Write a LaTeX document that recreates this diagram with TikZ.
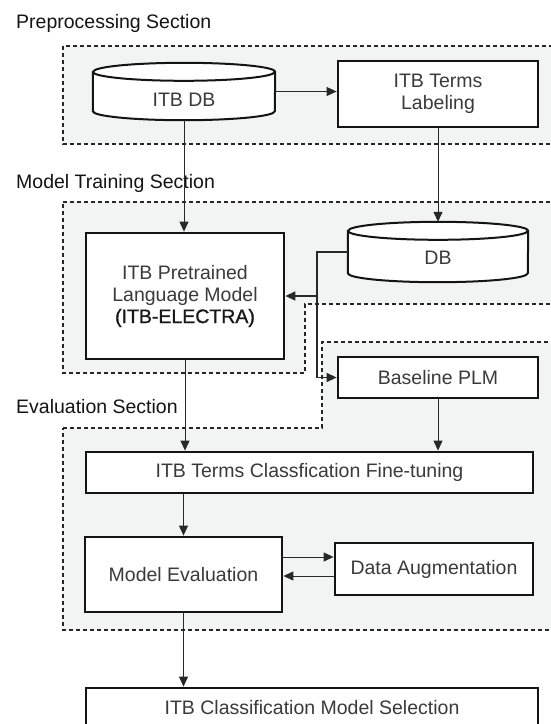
\documentclass[tikz,border=0pt]{standalone}
\usepackage{fontspec}
\setmainfont{Liberation Sans}
\newfontfamily\semib[FakeBold=1.2]{Liberation Sans}
\usetikzlibrary{arrows.meta,calc}
\pgfdeclarelayer{back}
\pgfdeclarelayer{mid}
\pgfsetlayers{back,mid,main}
\definecolor{secfill}{RGB}{242,243,243}
\definecolor{txt}{RGB}{58,58,58}
\definecolor{lin}{RGB}{40,40,40}
\tikzset{
  procbox/.style={draw=black!92, line width=2.8pt, fill=white, inner sep=0pt,
    align=center, text=txt, font=\fontsize{19.5}{22}\selectfont},
  cylnode/.style={inner sep=0pt, align=center, text=txt, font=\fontsize{19.5}{22}\selectfont},
  cylborder/.style={draw=black!92, line width=2pt, fill=white},
  secarea/.style={fill=secfill, draw=black!85, line width=1.3pt, dash pattern=on 4pt off 3pt},
  seclabel/.style={anchor=west, inner sep=0pt, text=black!92, font=\fontsize{19.5}{22}\selectfont},
  conn/.style={draw=lin, line width=1pt, -{Triangle[length=10pt,width=9pt]}},
  connb/.style={draw=lin, line width=1.5pt, -{Triangle[length=10pt,width=9pt]}},
}
\newcommand\drawcyl[3]{%
  \path[cylborder] ($(#1.north west)+(0,#3)$) -- ($(#1.south west)+(0,-#3)$)
    arc[start angle=180,end angle=360,x radius=#2pt,y radius=#3pt]
    -- ($(#1.north east)+(0,#3)$)
    arc[start angle=0,end angle=180,x radius=#2pt,y radius=#3pt] -- cycle;
  \draw[draw=black!92, line width=2pt] ($(#1.north west)+(0,#3)$)
    arc[start angle=180,end angle=360,x radius=#2pt,y radius=#3pt];
}
\begin{document}
\begin{tikzpicture}[x=1pt,y=-1pt]
\useasboundingbox (0,0) rectangle (551,724);
\clip (0,0) rectangle (551,724);

% section areas
\begin{pgfonlayer}{back}
  \fill[white] (0,0) rectangle (551,724);
  \path[secarea] (63,46) rectangle (560,144);
  \path[secarea] (63,202) -- (560,202) -- (560,304) -- (305,304) -- (305,373) -- (63,373) -- cycle;
  \path[secarea] (63,428) -- (322,428) -- (322,342) -- (560,342) -- (560,630) -- (63,630) -- cycle;
\end{pgfonlayer}

% section labels
\node[seclabel] (lpre) at (16,23) {Preprocessing Section};
\node[seclabel] (ltrain) at (16,183) {Model Training Section};
\node[seclabel] (leval) at (16,407) {Evaluation Section};

% nodes
\node[cylnode, minimum width=182, minimum height=57] (itbdb) at (184,91.5)
  {\raisebox{-8pt}[\height][\depth]{ITB DB}};
\node[procbox, minimum width=200, minimum height=66] (label) at (438,94)
  {ITB Terms\\Labeling};
\node[procbox, minimum width=198, minimum height=126] (pre) at (185,296)
  {ITB Pretrained\\Language Model\\{\semib\color{black!90}(ITB-ELECTRA)}};
\node[cylnode, minimum width=180, minimum height=60] (db) at (438,252)
  {\raisebox{-6pt}[\height][\depth]{DB}};
\node[procbox, minimum width=200, minimum height=41] (base) at (438,377.5)
  {Baseline PLM};
\node[procbox, minimum width=447, minimum height=41] (ft) at (309.5,472.5)
  {ITB Terms Classfication Fine-tuning};
\node[procbox, minimum width=197, minimum height=75] (me) at (183.5,574.5)
  {Model Evaluation};
\node[procbox, minimum width=198, minimum height=52] (da) at (434,569)
  {Data Augmentation};
\node[procbox, minimum width=452, minimum height=40] (fin) at (312,708)
  {ITB Classification Model Selection};

\begin{pgfonlayer}{mid}
  \drawcyl{itbdb}{91}{9}
  \drawcyl{db}{90}{9}
\end{pgfonlayer}

% connectors
\draw[conn] (itbdb.east) -- (itbdb.east -| label.west);
\draw[conn] (itbdb.south) -- (itbdb.south |- pre.north);
\draw[conn] (label.south) -- (db.north);
\coordinate (jn) at (317,296);
\draw[connb] (db.west) -| (jn) -- (pre.east);
\draw[connb] (jn) |- (base.west);
\draw[conn] (pre.south) -- (pre.south |- ft.north);
\draw[conn] (base.south) -- (base.south |- ft.north);
\draw[conn] (ft.south -| me.north) -- (me.north);
\coordinate (m1) at ([yshift=17.5pt]me.east);
\coordinate (m2) at ([yshift=-1.5pt]me.east);
\draw[conn] (m1) -- (m1 -| da.west);
\draw[conn] (m2 -| da.west) -- (m2);
\draw[conn] (me.south) -- (me.south |- fin.north);
\end{tikzpicture}
\end{document}
